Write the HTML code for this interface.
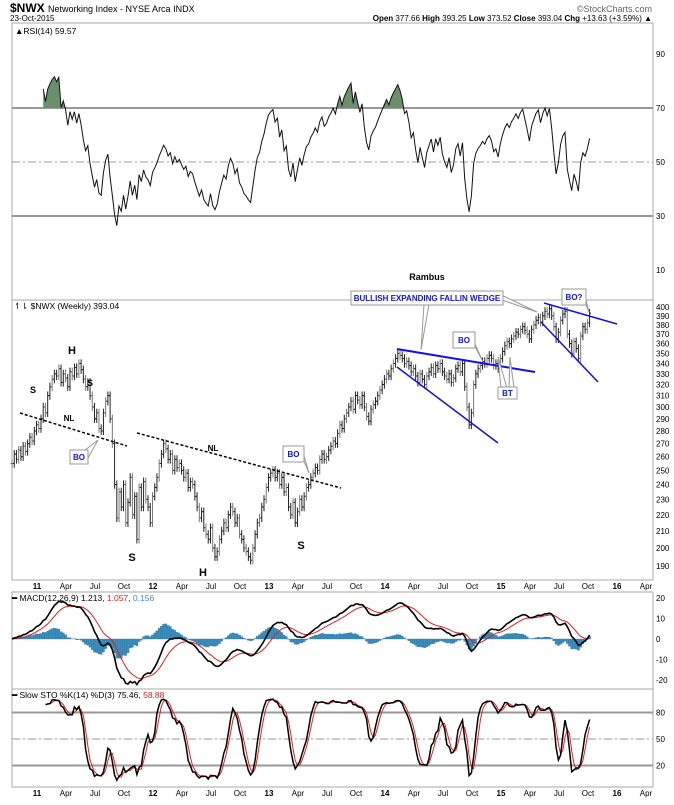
<!DOCTYPE html>
<html><head><meta charset="utf-8">
<style>
body{margin:0;background:#fff;}
svg text{font-family:"Liberation Sans",sans-serif;}
</style></head>
<body>
<svg id="c" width="674" height="800" viewBox="0 0 674 800" xmlns="http://www.w3.org/2000/svg">
<rect x="0" y="0" width="674" height="800" fill="#fff"/>
<text x="10" y="12" font-size="12" font-weight="bold">$NWX <tspan font-size="9" font-weight="normal">Networking Index - NYSE Arca INDX</tspan></text>
<text x="10" y="21" font-size="8">23-Oct-2015</text>
<text x="652" y="12" font-size="9" fill="#666" text-anchor="end">©StockCharts.com</text>
<text x="652" y="21" font-size="8" text-anchor="end"><tspan font-weight="bold">Open</tspan> 377.66 <tspan font-weight="bold">High</tspan> 393.25 <tspan font-weight="bold">Low</tspan> 373.52 <tspan font-weight="bold">Close</tspan> 393.04 <tspan font-weight="bold">Chg</tspan> +13.63 (+3.59%) ▲</text>
<g id="frames"></g>
<g id="rsi"></g><g id="price"></g><g id="macd"></g><g id="sto"></g><g id="xaxes"></g><g id="ann"></g>
</svg>
<script>
const closes=[255,262,258,265,260,268,264,270,275,
272,280,285,282,290,
300,295,310,318,325,330,
328,335,322,330,326,318,332,328,336,330,340,334,
325,318,322,
310,300,290,295,282,280,
295,305,310,
290,270,240,218,
235,225,240,215,228,245,220,232,205,238,225,242,230,
225,215,232,
238,245,255,262,270,266,
258,262,250,258,252,255,
250,245,248,238,242,240,
232,225,218,222,212,208,
205,212,200,195,198,
205,210,215,212,220,225,
222,215,218,208,205,200,
198,195,193,200,208,215,
218,225,230,238,245,248,250,245,248,
240,245,235,238,225,220,228,215,
222,230,225,232,238,240,
245,248,252,250,258,262,258,260,265,
268,272,270,278,285,282,290,295,300,
305,298,310,306,302,310,
300,292,288,298,302,305,
310,315,320,325,330,328,335,340,
345,350,348,
345,340,342,338,332,335,
328,322,330,325,320,328,
332,336,330,338,335,340,
332,328,325,330,322,
326,335,338,332,340,
318,300,285,
295,320,330,335,
338,342,340,345,348,345,
338,340,335,
345,352,358,362,360,365,
368,372,370,375,378,374,
370,365,375,380,385,
388,383,390,395,392,398,
390,378,365,
372,385,392,395,
370,360,350,
362,355,345,
368,378,375,382,393];
const priceTicks=[190,200,210,220,230,240,250,260,270,280,290,300,310,320,330,340,350,360,370,380,390,400];
const rsiTicks=[10,30,50,70,90];
const macdTicks=[-20,-10,0,10,20];
const stoTicks=[20,50,80];
const monthLabels=["11","Apr","Jul","Oct","12","Apr","Jul","Oct","13","Apr","Jul","Oct","14","Apr","Jul","Oct","15","Apr","Jul","Oct","16","Apr"];

const NS="http://www.w3.org/2000/svg";
function el(tag,attrs,parent,txt){const e=document.createElementNS(NS,tag);for(const k in attrs)e.setAttribute(k,attrs[k]);if(txt!==undefined)e.textContent=txt;parent.appendChild(e);return e;}
const L=12,R=653;
const xW=i=>12+i*2.23;
const xQ=q=>37+q*29.0; // quarter index from Jan 2011
const yP=p=>307-347.6*Math.log(p/400);
const yR=v=>162-(v-50)*2.7;
const yM=v=>639-v*2.05;
const yS=v=>739-(v-50)*0.883;

const fr=document.getElementById('frames');
[[23,300],[300,580],[592,689],[689,787]].forEach((b,k)=>{
 const r=el('rect',{x:L,y:b[0],width:R-L,height:b[1]-b[0],fill:'none',stroke:'#aaa','stroke-width':1},fr);
 
 
});

// ---- price bars
const pg=document.getElementById('price');
const highs=[],lows=[];
closes.forEach((c,i)=>{
 const o=i?closes[i-1]:c;
 const hi=Math.max(o,c)*1.012, lo=Math.min(o,c)*0.988;
 highs.push(hi);lows.push(lo);
 const x=xW(i);
 const g=el('g',{stroke:i%3?'#222':'#777','stroke-width':1},pg);
 
 
 el('line',{x1:x,y1:yP(hi),x2:x,y2:yP(lo)},g);
 el('line',{x1:x-1.5,y1:yP(o),x2:x,y2:yP(o)},g);
 el('line',{x1:x,y1:yP(c),x2:x+1.5,y2:yP(c)},g);
});
priceTicks.forEach(t=>{const e=el('text',{x:656,y:yP(t)+3,'font-size':8},pg,t);

});
const pl=el('text',{x:14,y:309,'font-size':8.5},pg,'↿⇂ $NWX (Weekly) 393.04');



// ---- RSI
const rsi=[];let ag=0,al=0;
for(let i=1;i<closes.length;i++){const d=closes[i]-closes[i-1];const g=Math.max(d,0),l=Math.max(-d,0);
 if(i<=14){ag+=g/14;al+=l/14;}else{ag=(ag*13+g)/14;al=(al*13+l)/14;}
 rsi[i]=i>=14?(al===0?100:100-100/(1+ag/al)):null;}
const rg=document.getElementById('rsi');
[[70,'solid'],[30,'solid'],[50,'dash']].forEach(([v,s])=>{const e=el('line',{x1:L,x2:R,y1:yR(v),y2:yR(v),stroke:'#999','stroke-width':s==='solid'?2:1,'stroke-dasharray':s==='solid'?'':'8,3,2,3'},rg);

});
let rp='';for(let i=14;i<closes.length;i++)rp+=(i===14?'M':'L')+xW(i).toFixed(1)+','+yR(rsi[i]).toFixed(1);
const cp=el('clipPath',{id:'ob'},rg);
el('rect',{x:L,y:23,width:R-L,height:yR(70)-23},cp);
const fillPath=rp+'L'+xW(closes.length-1)+','+yR(70)+'L'+xW(14)+','+yR(70)+'Z';
const rf=el('path',{d:fillPath,fill:'#6b8f6b','clip-path':'url(#ob)'},rg);


const rl=el('path',{d:rp,fill:'none',stroke:'#111','stroke-width':1},rg);


rsiTicks.forEach(t=>{const e=el('text',{x:656,y:yR(t)+3,'font-size':8},rg,t);

});
const rlg=el('text',{x:15,y:34,'font-size':8.5},rg,'▲RSI(14) 59.57');



// ---- MACD
function ema(a,n){const k=2/(n+1);const o=[];a.forEach((v,i)=>o.push(i?v*k+o[i-1]*(1-k):v));return o;}
const e12=ema(closes,12),e26=ema(closes,26);
const macd=closes.map((c,i)=>e12[i]-e26[i]);
const sig=ema(macd,9);
const hist=macd.map((m,i)=>m-sig[i]);
const mg=document.getElementById('macd');
hist.forEach((h,i)=>{const y0=yM(0),y1=yM(h);const e=el('rect',{x:xW(i)-1.1,y:Math.min(y0,y1),width:2.2,height:Math.abs(y1-y0),fill:'#3b8dbd',stroke:'#2a6f99','stroke-width':0.3},mg);

});
function pathOf(a,yf,start){let d='';for(let i=start;i<a.length;i++){if(a[i]==null)continue;d+=(d?'L':'M')+xW(i).toFixed(1)+','+yf(a[i]).toFixed(1);}return d;}
const ms=el('path',{d:pathOf(sig,yM,0),fill:'none',stroke:'#e02020','stroke-width':1},mg);


const ml=el('path',{d:pathOf(macd,yM,0),fill:'none',stroke:'#000','stroke-width':1.6},mg);


macdTicks.forEach(t=>{const e=el('text',{x:656,y:yM(t)+3,'font-size':8},mg,t);

});
const mlg=el('text',{x:12,y:601,'font-size':8.5},mg);


mlg.innerHTML='<tspan font-weight="bold">━</tspan> MACD(12,26,9) 1.213, <tspan fill="#e02020">1.057</tspan>, <tspan fill="#3b8dbd">0.156</tspan>';

// ---- Slow Stochastic
const rawK=closes.map((c,i)=>{if(i<13)return null;const h=Math.max(...highs.slice(i-13,i+1)),l=Math.min(...lows.slice(i-13,i+1));return 100*(c-l)/(h-l);});
const sma=(a,n)=>a.map((v,i)=>{const s=a.slice(Math.max(0,i-n+1),i+1).filter(x=>x!=null);return s.length<n?null:s.reduce((p,q)=>p+q,0)/n;});
const slowK=sma(rawK,3),slowD=sma(slowK,3);
const sg=document.getElementById('sto');
[[80,1],[20,1],[50,0]].forEach(([v,s])=>{const e=el('line',{x1:L,x2:R,y1:yS(v),y2:yS(v),stroke:'#999','stroke-width':s?2:1,'stroke-dasharray':s?'':'8,3,2,3'},sg);

});
const sd=el('path',{d:pathOf(slowD,yS,0),fill:'none',stroke:'#e02020','stroke-width':1},sg);


const sk=el('path',{d:pathOf(slowK,yS,0),fill:'none',stroke:'#000','stroke-width':1.5},sg);


stoTicks.forEach(t=>{const e=el('text',{x:656,y:yS(t)+3,'font-size':8},sg,t);

});
const slg=el('text',{x:12,y:698,'font-size':8.5},sg);


slg.innerHTML='<tspan font-weight="bold">━</tspan> Slow STO %K(14) %D(3) 75.46, <tspan fill="#e02020">58.88</tspan>';

// ---- x axes
const xg=document.getElementById('xaxes');
[589,796].forEach(y=>monthLabels.forEach((m,k)=>{const e=el('text',{x:xQ(k),y:y,'font-size':8,'text-anchor':'middle','font-weight':/^\d/.test(m)?'bold':'normal'},xg,m);

}));

// ---- annotations
const ag2=document.getElementById('ann');
function ln(x1,y1,x2,y2,st,w,dash,name){const e=el('line',{x1,y1,x2,y2,stroke:st,'stroke-width':w,'stroke-dasharray':dash||''},ag2);

}
ln(20,413,127,446,'#000',1.5,'3,2','neckline-1');
ln(137,433,341,488,'#000',1.5,'3,2','neckline-2');
ln(397,349,535,372,'#1010ee',2,'','wedge-top-line');
ln(397,367,498,443,'#1010ee',1.5,'','wedge-bottom-line');
ln(544,303,617,324,'#1010ee',1.5,'','flag-top-line');
ln(541,322,598,382,'#1010ee',1.5,'','flag-bottom-line');
function txt(x,y,s,size,name,col){const e=el('text',{x,y,'font-size':size,'font-weight':'bold','text-anchor':'middle',fill:col||'#000'},ag2,s);

}
txt(72,354,'H',11,'label-h-1');txt(33,393,'S',9,'label-s-1');txt(90,386,'S',9,'label-s-2');
txt(69,421,'NL',8,'label-nl-1');txt(213,451,'NL',8,'label-nl-2');
txt(132,561,'S',11,'label-s-3');txt(203,576,'H',11,'label-h-2');txt(301,549,'S',11,'label-s-4');
txt(427,280,'Rambus',9,'rambus-label');
function box(x,y,w,h,s,pts,name,fs){const g=el('g',{},ag2);


pts.forEach(p=>el('polyline',{points:p,fill:'#fff',stroke:'#999','stroke-width':1},g));
el('rect',{x,y,width:w,height:h,fill:'#fff',stroke:'#999','stroke-width':1},g);
el('text',{x:x+w/2,y:y+h/2+3,'font-size':fs||8,'font-weight':'bold','text-anchor':'middle',fill:'#1010ee'},g,s);}
box(70,450,18,14,'BO',['84,451 98,440 88,458'],'bo-callout-1');
box(283,446,21,16,'BO',['298,447 309,473 304,456'],'bo-callout-2');
box(453,332,22,16,'BO',['468,333 483,362 475,344'],'bo-callout-3');
box(498,387,19,12,'BT',['501,388 498,357 507,388','509,388 510,357 514,388'],'bt-callout');
box(351,291,152,14,'BULLISH EXPANDING FALLIN WEDGE',['424,304 421,350 429,304','495,292 537,312 502,300'],'wedge-callout',8);
box(562,289,24,16,'BO?',['580,290 589,312 586,300'],'bo-question-callout');
</script>
</body></html>
